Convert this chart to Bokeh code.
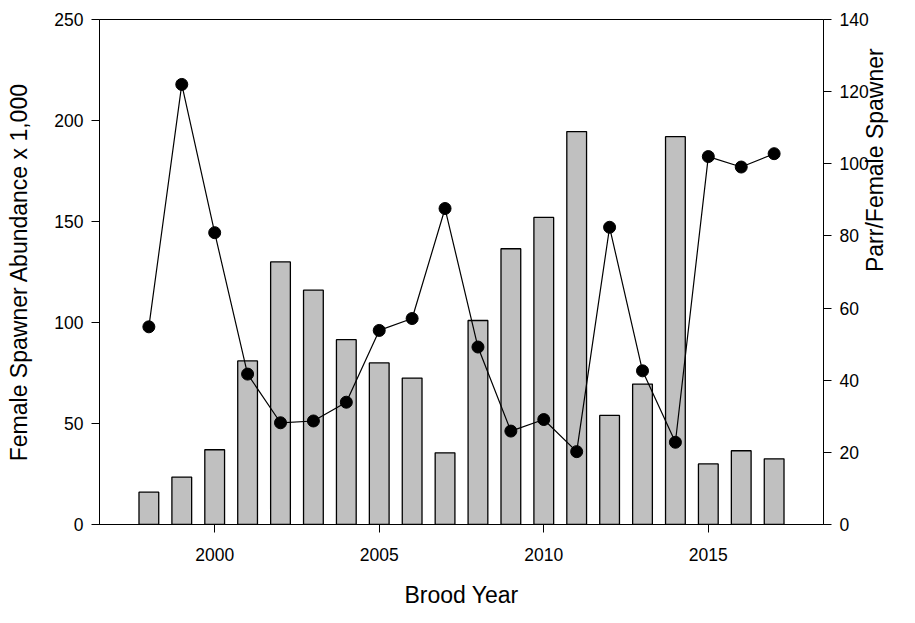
import math
from bokeh.plotting import figure
from bokeh.models import Range1d, LinearAxis, FixedTicker, ColumnDataSource
from bokeh.embed import file_html
from bokeh.resources import INLINE

years = [1998, 1999, 2000, 2001, 2002, 2003, 2004, 2005, 2006, 2007,
         2008, 2009, 2010, 2011, 2012, 2013, 2014, 2015, 2016, 2017]
abundance = [16, 23.5, 37, 81, 130, 116, 91.5, 80, 72.5, 35.5,
             101, 136.5, 152, 194.5, 54, 69.5, 192, 30, 36.5, 32.5]
parr_per_female = [54.8, 122, 80.9, 41.7, 28.2, 28.7, 33.9, 53.8, 57.1, 87.6,
                   49.2, 25.9, 29.1, 20.2, 82.4, 42.6, 22.8, 102, 99.1, 102.8]

x_ticks = [2000, 2005, 2010, 2015]
left_ticks = [0, 50, 100, 150, 200, 250]
right_ticks = [0, 20, 40, 60, 80, 100, 120, 140]

x_title = "Brood Year"
left_title = "Female Spawner Abundance x 1,000"
right_title = "Parr/Female Spawner"

src = ColumnDataSource(dict(year=years, abund=abundance, ppf=parr_per_female))

FONT = "Liberation Sans"
TICK_SIZE = "17.5px"
LABEL_SIZE = "23px"

p = figure(width=907, height=615, output_backend="svg", toolbar_location=None,
           x_range=Range1d(1996.5, 2018.5), y_range=Range1d(0, 250),
           min_border_left=99, min_border_right=84, min_border_top=19,
           min_border_bottom=91)
p.extra_y_ranges = {"right": Range1d(0, 140)}

p.vbar(x="year", top="abund", bottom=0, width=0.6, source=src,
       fill_color="#c0c0c0", line_color="black", line_width=1.3)
p.line(x="year", y="ppf", source=src, y_range_name="right",
       line_color="black", line_width=1.2)
p.scatter(x="year", y="ppf", source=src, y_range_name="right",
          size=12, fill_color="black", line_color="black")

p.xgrid.visible = False
p.ygrid.visible = False
p.outline_line_color = "black"
p.outline_line_width = 1
p.background_fill_color = "white"
p.border_fill_color = "white"

def style(ax, ticks):
    ax.ticker = FixedTicker(ticks=ticks)
    ax.minor_tick_line_color = None
    ax.major_tick_in = 0
    ax.major_tick_out = 8
    ax.major_tick_line_color = "black"
    ax.axis_line_color = "black"
    ax.axis_line_width = 1
    ax.major_label_text_font = FONT
    ax.major_label_text_font_size = TICK_SIZE
    ax.major_label_text_color = "black"
    ax.axis_label_text_font = FONT
    ax.axis_label_text_font_size = LABEL_SIZE
    ax.axis_label_text_font_style = "normal"
    ax.axis_label_text_color = "black"
    ax.major_label_standoff = 8

style(p.xaxis[0], x_ticks)
p.xaxis[0].axis_label = x_title
p.xaxis[0].major_label_standoff = 15
p.xaxis[0].axis_label_standoff = 18

style(p.yaxis[0], left_ticks)
p.yaxis[0].axis_label = left_title
p.yaxis[0].axis_label_standoff = 19

right = LinearAxis(y_range_name="right")
style(right, right_ticks)
right.axis_label = right_title
right.axis_label_standoff = 3
right.axis_label_orientation = math.pi / 2
p.add_layout(right, "right")

open("out.html", "w").write(file_html(p, INLINE))
